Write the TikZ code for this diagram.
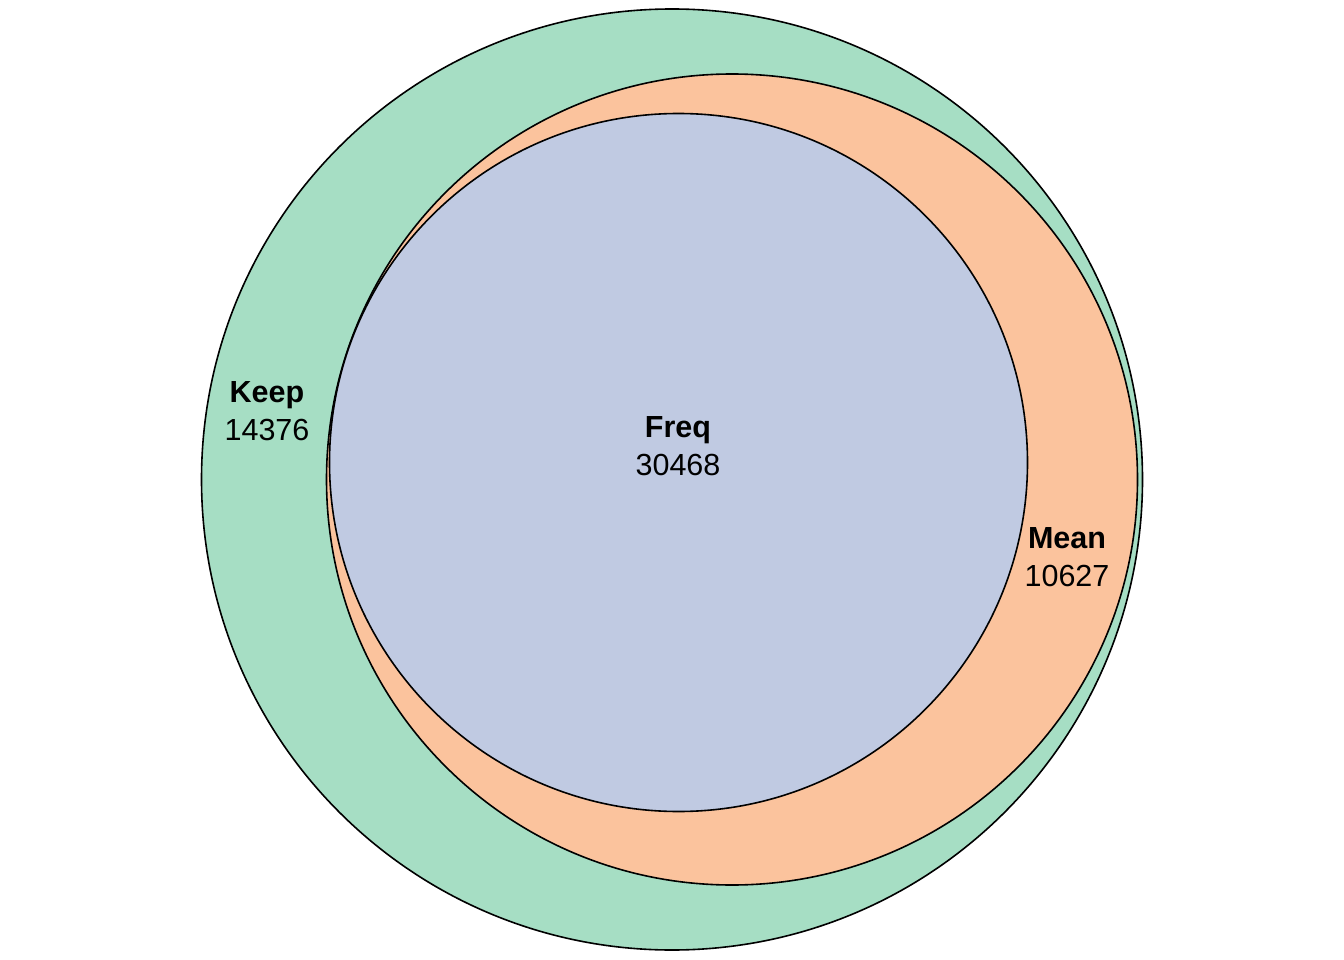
\documentclass[tikz,border=0pt]{standalone}
\usepackage{fontspec}
\setmainfont{Liberation Sans}
\definecolor{cgreen}{HTML}{A6DEC4}
\definecolor{corange}{HTML}{FBC39D}
\definecolor{cblue}{HTML}{C0CAE2}
\begin{document}
\begin{tikzpicture}[x=1pt,y=-1pt,
  setcircle/.style={draw=black,line width=1.6pt},
  lbl/.style={align=center,font=\fontsize{30.5}{38}\selectfont,inner sep=0pt}]
\useasboundingbox (0,0) rectangle (1344,960);
\path[setcircle,fill=cgreen] (672,479.5) circle (470.5);
\path[setcircle,fill=corange] (732,479.5) circle (405.5);
\path[setcircle,fill=cblue] (678.5,462.5) circle (349);
\node[lbl] (keep) at (267,411) {\textbf{Keep}\\14376};
\node[lbl] (freq) at (678,446) {\textbf{Freq}\\30468};
\node[lbl] (mean) at (1067,557) {\textbf{Mean}\\10627};
\end{tikzpicture}
\end{document}
